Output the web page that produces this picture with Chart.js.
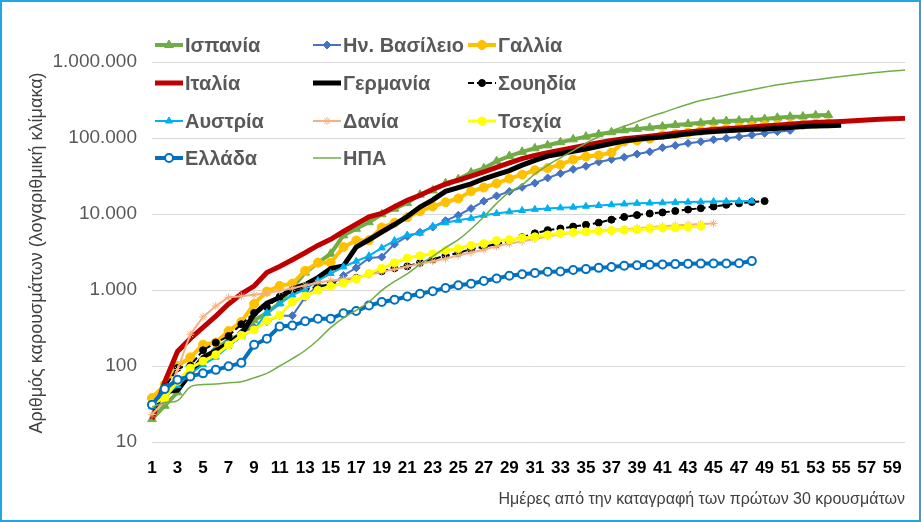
<!DOCTYPE html>
<html>
<head>
<meta charset="utf-8">
<script src="https://cdn.jsdelivr.net/npm/chart.js@4.4.1/dist/chart.umd.min.js"></script>
<style>
  body { margin: 0; background: #fff; }
  #wrap { position: relative; width: 921px; height: 522px; }
  #frame { position: absolute; left: 0; top: 0; width: 921px; height: 522px; box-sizing: border-box; border: 2px solid #22A6E3; pointer-events: none; }
</style>
</head>
<body>
<div id="wrap">
  <canvas id="chart" width="921" height="522"></canvas>
  <div id="frame"></div>
</div>
<script>
// days since the first ~30 cases
var days = [];
for (var d = 1; d <= 60; d++) days.push(String(d));

var yTicks = [10, 100, 1000, 10000, 100000, 1000000];
var yTitle = 'Αριθμός καρουσμάτων (λογαριθμική κλίμακα)';

var spain = [20, 30, 45, 84, 120, 165, 222, 259, 400, 500, 673, 1073, 1695, 2277, 3000, 5232, 6391, 7798, 9942, 11748,
  13910, 17963, 20410, 25374, 28603, 35136, 39885, 49515, 57786, 65719, 73235, 80110, 87956, 95923, 104118, 112065,
  119199, 126168, 131646, 136675, 141942, 148220, 153222, 158273, 163027, 166831, 170099, 172541, 177644, 184948,
  190839, 191726, 198674, 200210];
var uk = [36, 40, 51, 86, 116, 164, 207, 274, 322, 384, 459, 459, 802, 1144, 1145, 1551, 1960, 2642, 2716, 4014,
  5067, 5745, 6726, 8164, 9640, 11812, 14745, 17312, 19780, 22453, 25481, 29865, 34173, 38689, 42477, 48436, 52279,
  55949, 61474, 65872, 74605, 79874, 85206, 89570, 94845, 99483, 104145, 109769, 115314, 121172, 125856];
var france = [38, 57, 100, 130, 191, 204, 288, 380, 656, 957, 1134, 1217, 1792, 2289, 2289, 3672, 4480, 4513, 6650, 7652,
  9043, 10871, 12612, 14282, 16018, 19856, 22304, 25233, 29155, 32964, 37575, 40174, 44550, 52128, 56989, 59105, 64338,
  89953, 92839, 98010, 109069, 112950, 117749, 124869, 129654, 132591, 137877, 143303, 147091, 147969, 149149, 149149,
  154097, 156480];
var italy = [20, 62, 155, 229, 322, 453, 655, 888, 1128, 1694, 2036, 2502, 3089, 3858, 4636, 5883, 7375, 9172, 10149, 12462,
  15113, 17660, 21157, 24747, 27980, 31506, 35713, 41035, 47021, 53578, 59138, 63927, 69176, 74386, 80589, 86498, 92472,
  97689, 101739, 105792, 110574, 115242, 119827, 124632, 128948, 132547, 135586, 139422, 143626, 147577, 152271, 156363,
  159516, 162488, 165155, 168941, 172434, 175925, 178972, 181228];
var germany = [27, 46, 48, 79, 130, 159, 196, 262, 482, 670, 799, 1040, 1176, 1457, 1908, 2078, 3675, 4585, 5795, 7272,
  9257, 12327, 15320, 19848, 22213, 24873, 29056, 32986, 37323, 43938, 50871, 57695, 62095, 66885, 71808, 77872, 84794,
  91159, 96092, 100123, 103374, 107663, 113296, 118181, 122171, 124908, 127854, 130072, 131359, 134753, 137698, 141397,
  143342, 145184, 147065];
var sweden = [30, 52, 94, 101, 161, 203, 248, 355, 500, 599, 814, 961, 1022, 1103, 1190, 1279, 1439, 1639, 1763, 1934,
  2046, 2286, 2526, 2840, 3069, 3447, 3700, 4028, 4435, 4947, 5568, 6131, 6443, 6830, 7206, 7693, 8419, 9141, 9685,
  10151, 10483, 10948, 11445, 11927, 12540, 13216, 13822, 14385, 14777];
var austria = [29, 41, 55, 79, 104, 131, 182, 246, 302, 504, 655, 860, 1018, 1332, 1646, 2013, 2388, 2814, 3582, 4474,
  5283, 5588, 6909, 7657, 8271, 8788, 9618, 10180, 10711, 11129, 11524, 11781, 12051, 12297, 12639, 12942, 13244,
  13555, 13806, 13945, 14041, 14226, 14336, 14476, 14595, 14671, 14749, 14795];
var denmark = [23, 35, 90, 262, 442, 615, 801, 827, 864, 914, 977, 1057, 1151, 1255, 1326, 1395, 1450, 1591, 1724, 1877,
  2046, 2201, 2395, 2577, 2860, 3107, 3386, 3757, 4077, 4369, 4681, 5071, 5402, 5635, 5819, 5996, 6191, 6318, 6511,
  6681, 6879, 7073, 7242, 7384, 7515];
var czechia = [32, 38, 63, 94, 116, 141, 189, 253, 298, 396, 464, 694, 833, 995, 1120, 1236, 1394, 1654, 1925, 2279,
  2631, 2817, 3001, 3308, 3508, 3858, 4091, 4472, 4587, 4822, 5017, 5312, 5569, 5732, 5831, 5991, 6059, 6111, 6216,
  6433, 6549, 6606, 6746, 6900];
var greece = [31, 50, 66, 73, 80, 89, 99, 110, 190, 228, 331, 340, 387, 418, 418, 495, 530, 624, 695, 743, 821, 892,
  966, 1061, 1156, 1212, 1314, 1415, 1544, 1613, 1673, 1735, 1755, 1832, 1884, 1955, 2011, 2081, 2114, 2145, 2170,
  2192, 2207, 2224, 2235, 2235, 2245, 2401];
var usa = [29, 33, 35, 53, 57, 58, 60, 62, 70, 80, 100, 125, 160, 220, 320, 430, 540, 700, 990, 1300, 1630, 2180, 2770,
  3610, 4600, 6340, 9200, 13800, 19400, 24200, 33600, 43800, 54900, 68200, 85400, 104000, 123600, 142500, 164300,
  189600, 215000, 245600, 277900, 312200, 337100, 368200, 399900, 432400, 466300, 501600, 529900, 557600, 584000,
  614200, 642400, 673900, 704800, 734000, 761000, 784000];

function series(label, data, color, width, style, radius, fill, dash) {
    return {
        label: label,
        data: data,
        borderColor: color,
        backgroundColor: fill || color,
        borderWidth: width,
        borderDash: dash || [],
        pointStyle: style || false,
        pointRadius: style ? radius : 0,
        pointHoverRadius: style ? radius : 0,
        pointBorderColor: color,
        pointBackgroundColor: fill || color,
        pointBorderWidth: style === 'circle' && fill ? 2 : 1,
        tension: 0,
        fill: false
    };
}

var datasets = [
    series('Ισπανία', spain, '#70AD47', 4, 'triangle', 5),
    series('Ην. Βασίλειο', uk, '#4472C4', 2, 'rectRot', 4),
    series('Γαλλία', france, '#FFC000', 4, 'circle', 4.5),
    series('Ιταλία', italy, '#C00000', 5),
    series('Γερμανία', germany, '#000000', 5),
    series('Σουηδία', sweden, '#000000', 2, 'circle', 3.5, null, [6, 3]),
    series('Αυστρία', austria, '#00B0F0', 2, 'triangle', 4),
    series('Δανία', denmark, '#F4B183', 2, 'star', 4),
    series('Τσεχία', czechia, '#FFFF00', 3, 'circle', 4),
    series('Ελλάδα', greece, '#0070C0', 4, 'circle', 4, '#FFFFFF'),
    series('ΗΠΑ', usa, '#70AD47', 1.5)
];
// later series are drawn on top, like the original
for (var i = 0; i < datasets.length; i++) datasets[i].order = 20 - i;
datasets[10].tension = 0.4;

function greekNumber(v) {
    return String(v).replace(/\B(?=(\d{3})+(?!\d))/g, '.');
}

// legend in 3 columns inside the plot area, plus the rotated y title
var legendPlugin = {
    id: 'gridLegend',
    afterDatasetsDraw: function(chart) {
        var ctx = chart.ctx;
        var colX = [155, 313, 468];
        var rowY = [45, 83, 121, 158];
        ctx.save();
        for (var i = 0; i < datasets.length; i++) {
            var ds = datasets[i];
            var x = colX[i % 3];
            var y = rowY[Math.floor(i / 3)];
            ctx.strokeStyle = ds.borderColor;
            ctx.lineWidth = ds.borderWidth;
            ctx.setLineDash(ds.borderDash);
            ctx.beginPath();
            ctx.moveTo(x, y);
            ctx.lineTo(x + 28, y);
            ctx.stroke();
            ctx.setLineDash([]);
            if (ds.pointStyle) {
                ctx.fillStyle = ds.pointBackgroundColor;
                ctx.strokeStyle = ds.pointBorderColor;
                ctx.lineWidth = ds.pointBorderWidth;
                Chart.helpers.drawPoint(ctx, {pointStyle: ds.pointStyle, radius: ds.pointRadius, rotation: 0, borderWidth: ds.pointBorderWidth}, x + 14, y);
            }
            ctx.fillStyle = '#595959';
            ctx.font = 'bold 20px "Liberation Sans", Arial, sans-serif';
            ctx.textBaseline = 'middle';
            ctx.textAlign = 'left';
            ctx.fillText(ds.label, x + 30, y + 1);
        }

        ctx.translate(37, 253);
        ctx.rotate(-Math.PI / 2);
        ctx.fillStyle = '#404040';
        ctx.font = '18px "Liberation Sans", Arial, sans-serif';
        ctx.textAlign = 'center';
        ctx.textBaseline = 'middle';
        ctx.fillText(yTitle, 0, 0);
        ctx.restore();
    }
};

var ctx = document.getElementById('chart').getContext('2d');
var chart = new Chart(ctx, {
    type: 'line',
    data: {
        labels: days,
        datasets: datasets
    },
    options: {
        responsive: false,
        animation: false,
        layout: { padding: { top: 62, right: 16, left: 0, bottom: 0 } },
        plugins: {
            legend: { display: false },
            tooltip: { enabled: false }
        },
        scales: {
            x: {
                grid: { display: false, drawTicks: false },
                border: { display: false },
                ticks: {
                    autoSkip: false,
                    maxRotation: 0,
                    minRotation: 0,
                    padding: 16,
                    color: '#000000',
                    font: { family: '"Liberation Sans", Arial', size: 17, weight: 'bold' },
                    callback: function(value, index) {
                        return index % 2 === 0 ? this.getLabelForValue(value) : '';
                    }
                },
                title: {
                    display: true,
                    text: 'Ημέρες από την καταγραφή των πρώτων 30 κρουσμάτων',
                    align: 'end',
                    color: '#404040',
                    font: { family: '"Liberation Sans", Arial', size: 16 },
                    padding: { top: 0, bottom: 13 }
                },
                afterFit: function(scale) { scale.height = 80; }
            },
            y: {
                type: 'logarithmic',
                min: 10,
                max: 1000000,
                grid: { color: '#D9D9D9', lineWidth: 1, drawTicks: false },
                border: { display: false },
                afterBuildTicks: function(scale) {
                    scale.ticks = yTicks.map(function(v) { return { value: v }; });
                },
                ticks: {
                    padding: 15,
                    color: '#595959',
                    font: { family: '"Liberation Sans", Arial', size: 19 },
                    callback: function(value) { return greekNumber(value); }
                },
                afterFit: function(scale) { scale.width = 152; }
            }
        }
    },
    plugins: [legendPlugin]
});
</script>
</body>
</html>
